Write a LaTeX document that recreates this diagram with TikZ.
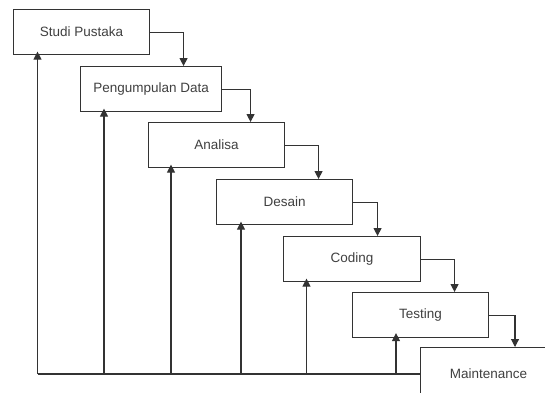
\documentclass[tikz,border=0pt]{standalone}
\usepackage{fontspec}
\setmainfont{Liberation Sans}
\usetikzlibrary{arrows.meta}
\definecolor{ln}{HTML}{333333}
\definecolor{tx}{HTML}{404040}
\begin{document}
\begin{tikzpicture}[x=1pt,y=-1pt,
  stepbox/.style={draw=ln,line width=1.1pt,fill=white,anchor=north west,
    minimum width=136pt,minimum height=45pt,inner sep=0pt,
    text=tx,font=\fontsize{13.5}{15}\selectfont},
  arr/.style={draw=ln,line width=1.1pt,-{Triangle[length=8pt,width=8pt]}},
  ln/.style={draw=ln,line width=1.1pt}]
\useasboundingbox (0,0) rectangle (545,392);
\clip (0,0) rectangle (545,392);
\node[stepbox] (s1) at (13,9) {Studi Pustaka};
\node[stepbox,minimum width=141pt] (s2) at (80,66) {Pengumpulan Data};
\node[stepbox] (s3) at (148,122) {Analisa};
\node[stepbox] (s4) at (216,179) {Desain};
\node[stepbox,minimum width=137pt] (s5) at (283,236) {Coding};
\node[stepbox] (s6) at (352,292) {Testing};
\node[stepbox,minimum height=60pt] (s7) at (420,347) {\raisebox{7pt}{Maintenance}};
% down connectors
\draw[arr] (s1.east) -| ([xshift=32.5pt]s2.north);
\draw[arr] (s2.east) -| ([xshift=34pt]s3.north);
\draw[arr] (s3.east) -| ([xshift=34pt]s4.north);
\draw[arr] (s4.east) -| ([xshift=25.5pt]s5.north);
\draw[arr] (s5.east) -| ([xshift=34pt]s6.north);
\draw[arr] (s6.east) -| ([xshift=95pt]s7.north west);
% feedback line
\coordinate (L1) at (37.5,374);
\coordinate (L2) at (104,374);
\coordinate (L3) at (171,374);
\coordinate (L4) at (241,374);
\coordinate (L5) at (306.5,374);
\coordinate (L6) at (396,374);
\draw[ln] (L1) -- (s7.west |- L1);
\draw[arr] (L1) -- ([yshift=3.5pt]s1.south -| L1);
\draw[arr] (L2) -- ([yshift=3.5pt]s2.south -| L2);
\draw[arr] (L3) -- ([yshift=3.5pt]s3.south -| L3);
\draw[arr] (L4) -- ([yshift=3.5pt]s4.south -| L4);
\draw[arr] (L5) -- ([yshift=3.5pt]s5.south -| L5);
\draw[arr] (L6) -- ([yshift=5pt]s6.south -| L6);
\end{tikzpicture}
\end{document}
